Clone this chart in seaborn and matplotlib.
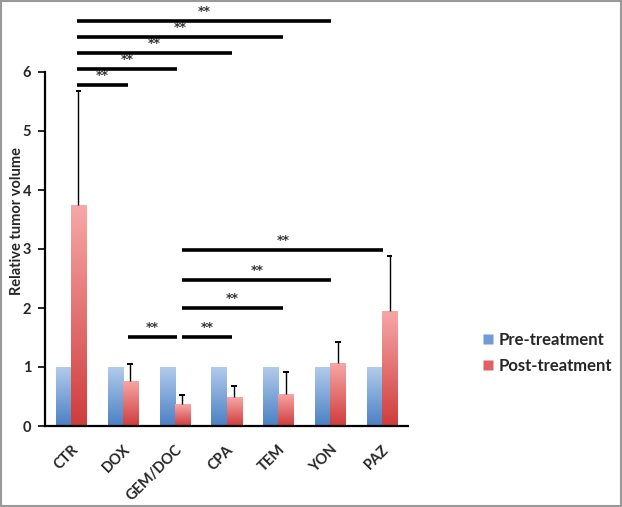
import numpy as np
import pandas as pd
import matplotlib
matplotlib.use("Agg")
import matplotlib.pyplot as plt
import seaborn as sns
from matplotlib.colors import LinearSegmentedColormap
from matplotlib.lines import Line2D
from matplotlib.patches import Rectangle

categories = ["CTR", "DOX", "GEM/DOC", "CPA", "TEM", "YON", "PAZ"]
pre_values = [1, 1, 1, 1, 1, 1, 1]
post_values = [3.75, 0.77, 0.37, 0.49, 0.55, 1.07, 1.95]
post_errors = [1.93, 0.28, 0.15, 0.18, 0.37, 0.35, 0.93]
series_names = ["Pre-treatment", "Post-treatment"]

# significance brackets: (x start, x end, y level, label)
sig_x0 = [0.12, 0.12, 0.12, 0.12, 0.12, 2.15, 2.15, 2.15, 2.15, 1.10]
sig_x1 = [1.10, 2.04, 3.10, 4.08, 5.02, 3.10, 4.08, 5.02, 6.02, 2.04]
sig_y = [5.78, 6.05, 6.32, 6.59, 6.86, 1.51, 2.00, 2.47, 2.98, 1.51]
sig_label = ["**"] * 10

df = pd.DataFrame({
    "category": categories * 2,
    "value": pre_values + post_values,
    "series": [series_names[0]] * len(categories) + [series_names[1]] * len(categories),
})

sns.set_style("white")
plt.rcParams["font.family"] = ["Lato", "DejaVu Sans"]

fig = plt.figure(figsize=(6.22, 5.07), dpi=100)
ax = fig.add_axes([45 / 622, 81 / 507, 363 / 622, 413 / 507])

sns.barplot(data=df, x="category", y="value", hue="series", order=categories,
            hue_order=series_names, width=0.58, ax=ax, legend=False,
            palette=["#7fa6da", "#e87070"], errorbar=None, saturation=1)

cmaps = [
    LinearSegmentedColormap.from_list("b", ["#4a80c4", "#b2cbeb"]),
    LinearSegmentedColormap.from_list("r", ["#cf3c3c", "#f7a8a8"]),
]
grad = np.linspace(0, 1, 256).reshape(-1, 1)
for ci, cont in enumerate(ax.containers[:2]):
    for patch in cont.patches:
        x, y = patch.get_x(), patch.get_y()
        w, h = patch.get_width(), patch.get_height()
        patch.set_facecolor("none")
        patch.set_edgecolor("none")
        im = ax.imshow(grad, cmap=cmaps[ci], aspect="auto", origin="lower",
                       extent=(x, x + w, y, y + h), zorder=2, interpolation="bicubic")
        im.set_clip_path(patch)

post_cont = ax.containers[1]
xs = np.array([p.get_x() + p.get_width() / 2 for p in post_cont.patches])
tops = np.array(post_values) + np.array(post_errors)
ax.vlines(xs, post_values, tops, color="black", lw=1.0, zorder=3)
ax.hlines(tops, xs - 0.055, xs + 0.055, color="black", lw=1.4, zorder=3)

for x0, x1, y, lab in zip(sig_x0, sig_x1, sig_y, sig_label):
    ax.plot([x0, x1], [y, y], color="black", lw=2.6, solid_capstyle="butt", zorder=4)
    ax.text((x0 + x1) / 2, y + 0.05, lab, ha="center", va="bottom",
            fontsize=9, fontweight="bold", color="#333333", family="DejaVu Sans")

ax.set_xlim(-0.5, 6.5)
ax.set_ylim(0, 7)
ax.set_yticks(range(0, 7))
ax.set_yticklabels([str(i) for i in range(0, 7)], fontsize=10.5, fontweight="bold")
ax.set_xticks(range(len(categories)))
ax.set_xticklabels(categories, rotation=45, ha="right", rotation_mode="anchor",
                   fontsize=10.5, fontweight="bold")
ax.set_xticks(np.arange(-0.5, 7, 1), minor=True)
ax.tick_params(axis="x", which="major", length=0, pad=12)
ax.tick_params(axis="x", which="minor", length=5, width=1.2, direction="out", color="black")
ax.tick_params(axis="y", which="major", length=5, width=1.2, direction="out", color="black", left=True, pad=5)

for s in ["top", "right"]:
    ax.spines[s].set_visible(False)
for s in ["left", "bottom"]:
    ax.spines[s].set_color("black")
    ax.spines[s].set_linewidth(1.6)
ax.spines["left"].set_bounds(0, 6)

ax.set_xlabel("")
ax.set_ylabel("Relative tumor volume", fontsize=10.5, fontweight="bold")
ax.yaxis.set_label_coords(-0.058, 0.496)

handles = [
    Line2D([], [], marker="s", linestyle="none", markersize=7, markerfacecolor="#6f9bd6", markeredgecolor="none"),
    Line2D([], [], marker="s", linestyle="none", markersize=7, markerfacecolor="#e26060", markeredgecolor="none"),
]
fig.legend(handles, series_names, loc="center left", bbox_to_anchor=(473 / 622, 1 - 353 / 507),
           frameon=False, prop={"weight": "bold", "size": 12}, handletextpad=0.15,
           labelspacing=0.6, handlelength=1.0, borderaxespad=0)

fig.add_artist(Rectangle((0.0015, 0.002), 0.997, 0.996, transform=fig.transFigure,
                         fill=False, edgecolor="#999999", lw=1.5))

fig.savefig("out.png", dpi=100)
